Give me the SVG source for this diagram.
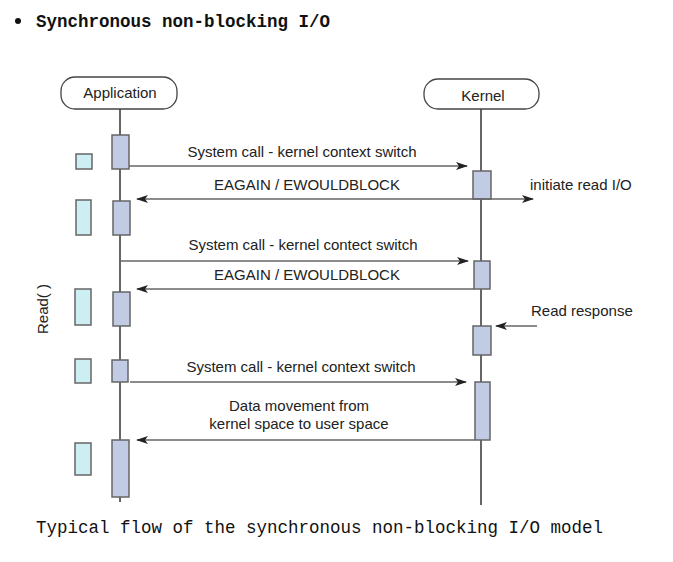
<svg xmlns="http://www.w3.org/2000/svg" width="673" height="562" viewBox="0 0 673 562">
<defs>
<style>
.t{font-family:"Liberation Sans",Arial,sans-serif;font-size:15px;fill:#222}
.mono{font-family:"Liberation Mono","Courier New",monospace;font-size:17.5px;fill:#111}
.head{fill:#fff;stroke:#444;stroke-width:1.3}
.bar{fill:#c2cbe4;stroke:#666;stroke-width:1.5}
.cy{fill:#cdeef3;stroke:#666;stroke-width:1.5}
.life{stroke:#666;stroke-width:2;fill:none}
.msg{stroke:#666;stroke-width:1.5;fill:none}
</style>
<marker id="ah" markerWidth="12" markerHeight="8" refX="11" refY="4" orient="auto-start-reverse" markerUnits="userSpaceOnUse">
<path d="M0,0 L12,4 L0,8 L3,4 Z" fill="#222"/>
</marker>
</defs>
<rect width="673" height="562" fill="#fff"/>
<circle cx="18" cy="21" r="3" fill="#111"/>
<text class="mono" x="36" y="27" font-weight="bold">Synchronous non-blocking I/O</text>

<g id="lifelines">
<line class="life" x1="120" y1="109" x2="120" y2="502"/>
<line class="life" x1="481" y1="109" x2="481" y2="505"/>
</g>

<g id="application">
<rect class="head" x="61" y="77" width="116" height="32" rx="14"/>
<text class="t" x="120" y="98" text-anchor="middle">Application</text>
</g>
<g id="kernel">
<rect class="head" x="424" y="79" width="115" height="30" rx="14"/>
<text class="t" x="483" y="101" text-anchor="middle">Kernel</text>
</g>

<g id="app-bars">
<rect class="bar" x="112" y="135" width="17" height="34"/>
<rect class="bar" x="113" y="201" width="17" height="34"/>
<rect class="bar" x="113" y="292" width="17" height="34"/>
<rect class="bar" x="112" y="360" width="16" height="22"/>
<rect class="bar" x="112" y="440" width="17" height="57"/>
</g>
<g id="read-markers">
<rect class="cy" x="76" y="154" width="16" height="15"/>
<rect class="cy" x="76" y="200" width="15" height="35"/>
<rect class="cy" x="75" y="289" width="16" height="36"/>
<rect class="cy" x="75" y="359" width="16" height="24"/>
<rect class="cy" x="75" y="443" width="16" height="32"/>
</g>
<g id="kernel-bars">
<rect class="bar" x="473" y="171" width="18" height="28"/>
<rect class="bar" x="474" y="261" width="16" height="28"/>
<rect class="bar" x="473" y="326" width="18" height="29"/>
<rect class="bar" x="475" y="382" width="15" height="58"/>
</g>

<g id="connectors">
<line class="msg" x1="129" y1="166" x2="467" y2="166" marker-end="url(#ah)"/>
<line class="msg" x1="137" y1="199" x2="533" y2="199" marker-start="url(#ah)" marker-end="url(#ah)"/>
<line class="msg" x1="120" y1="261" x2="468" y2="261" marker-end="url(#ah)"/>
<line class="msg" x1="474" y1="289" x2="137" y2="289" marker-end="url(#ah)"/>
<line class="msg" x1="537" y1="326" x2="496" y2="326" marker-end="url(#ah)"/>
<line class="msg" x1="130" y1="382" x2="466" y2="382" marker-end="url(#ah)"/>
<line class="msg" x1="475" y1="440" x2="137" y2="440" marker-end="url(#ah)"/>
</g>

<g id="labels">
<text class="t" x="302" y="157" text-anchor="middle">System call - kernel context switch</text>
<text class="t" x="307" y="190" text-anchor="middle">EAGAIN / EWOULDBLOCK</text>
<text class="t" x="530" y="190">initiate read I/O</text>
<text class="t" x="303" y="250" text-anchor="middle">System call - kernel contect switch</text>
<text class="t" x="307" y="280" text-anchor="middle">EAGAIN / EWOULDBLOCK</text>
<text class="t" x="531" y="316">Read response</text>
<text class="t" x="301" y="372" text-anchor="middle">System call - kernel context switch</text>
<text class="t" x="299" y="411" text-anchor="middle">Data movement from</text>
<text class="t" x="299" y="429" text-anchor="middle">kernel space to user space</text>
<text class="t" x="0" y="0" text-anchor="middle" transform="translate(48,309) rotate(-90)">Read( )</text>
</g>

<text class="mono" x="36" y="533">Typical flow of the synchronous non-blocking I/O model</text>
</svg>
